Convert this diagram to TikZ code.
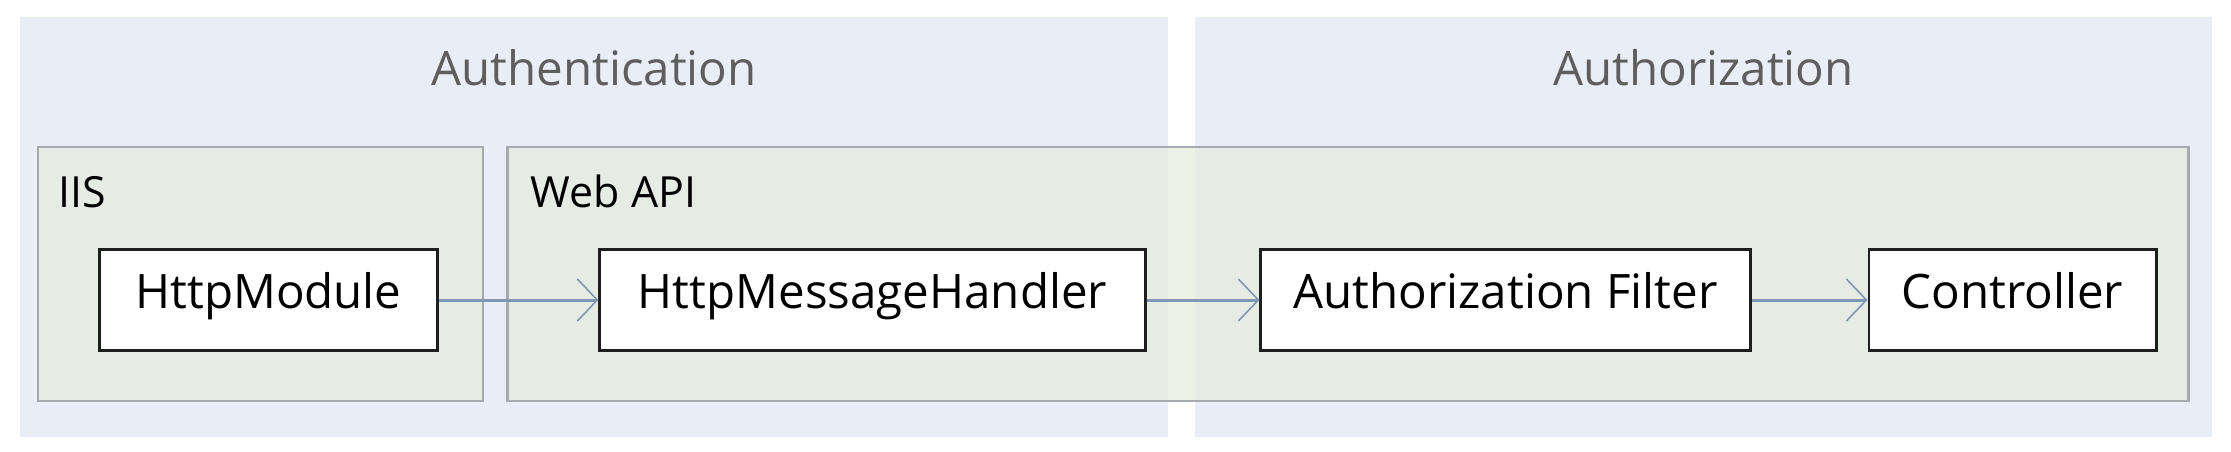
\documentclass[tikz,border=0pt]{standalone}
\usepackage{fontspec}
\setmainfont{Open Sans}
\usetikzlibrary{arrows.meta, backgrounds}
\definecolor{panelfill}{HTML}{E9EEF6}
\definecolor{groupfill}{HTML}{E6EBDD}
\definecolor{groupborder}{HTML}{A6AAAE}
\definecolor{titletext}{HTML}{5E5E5E}
\definecolor{flowline}{HTML}{8198B4}
\definecolor{darkline}{HTML}{1E1E1E}
\tikzset{
  panel/.style={rectangle, fill=panelfill, draw=none, inner sep=0pt, minimum height=4.2cm},
  group/.style={rectangle, fill=groupfill, fill opacity=0.75, draw=groupborder, draw opacity=1, line width=0.6pt, inner sep=0pt, minimum height=2.54cm},
  component/.style={rectangle, fill=white, draw=darkline, line width=0.8pt, inner sep=0pt, minimum height=1.01cm, font=\fontsize{13.5}{16}\selectfont, text height=0.714em, text depth=0.23em},
  group-title/.style={font=\fontsize{12.2}{14}\selectfont, anchor=base west, inner sep=0pt},
  phase-title/.style={font=\fontsize{13.5}{16}\selectfont, text=titletext, anchor=base, inner sep=0pt},
  flow/.style={-{Straight Barb[length=2mm, width=4.2mm, line width=0.45pt]}, line width=0.85pt, draw=flowline}
}

\begin{document}
\begin{tikzpicture}[x=0.01cm, y=-0.01cm]

\useasboundingbox (0,0) rectangle (2231,451);

\begin{pgfonlayer}{background}
  \fill[white] (0,0) rectangle (2231,451);
  \node[panel, minimum width=11.48cm] (authn) at (594, 227) {};
  \node[panel, minimum width=10.17cm] (authz) at (1703.5, 227) {};
\end{pgfonlayer}

\node[phase-title] at (594, 85) {Authentication};
\node[phase-title] at (1703.5, 85) {Authorization};

\node[group, minimum width=4.45cm] (iis) at (260.5, 274) {};
\node[group, minimum width=16.8cm] (webapi) at (1348, 274) {};
\node[group-title] at (58, 207) {IIS};
\node[group-title] at (530, 207) {Web API};

\node[component, minimum width=3.37cm] (module) at (268.5, 300) {HttpModule};
\node[component, minimum width=5.45cm] (handler) at (872.5, 300) {HttpMessageHandler};
\node[component, minimum width=4.89cm] (filter) at (1505.5, 300) {Authorization Filter};
\node[component, minimum width=2.87cm] (controller) at (2012.5, 300) {Controller};

\draw[flow] (module.east) -- (handler.west);
\draw[flow] (handler.east) -- (filter.west);
\draw[flow] (filter.east) -- (controller.west);

\end{tikzpicture}
\end{document}
